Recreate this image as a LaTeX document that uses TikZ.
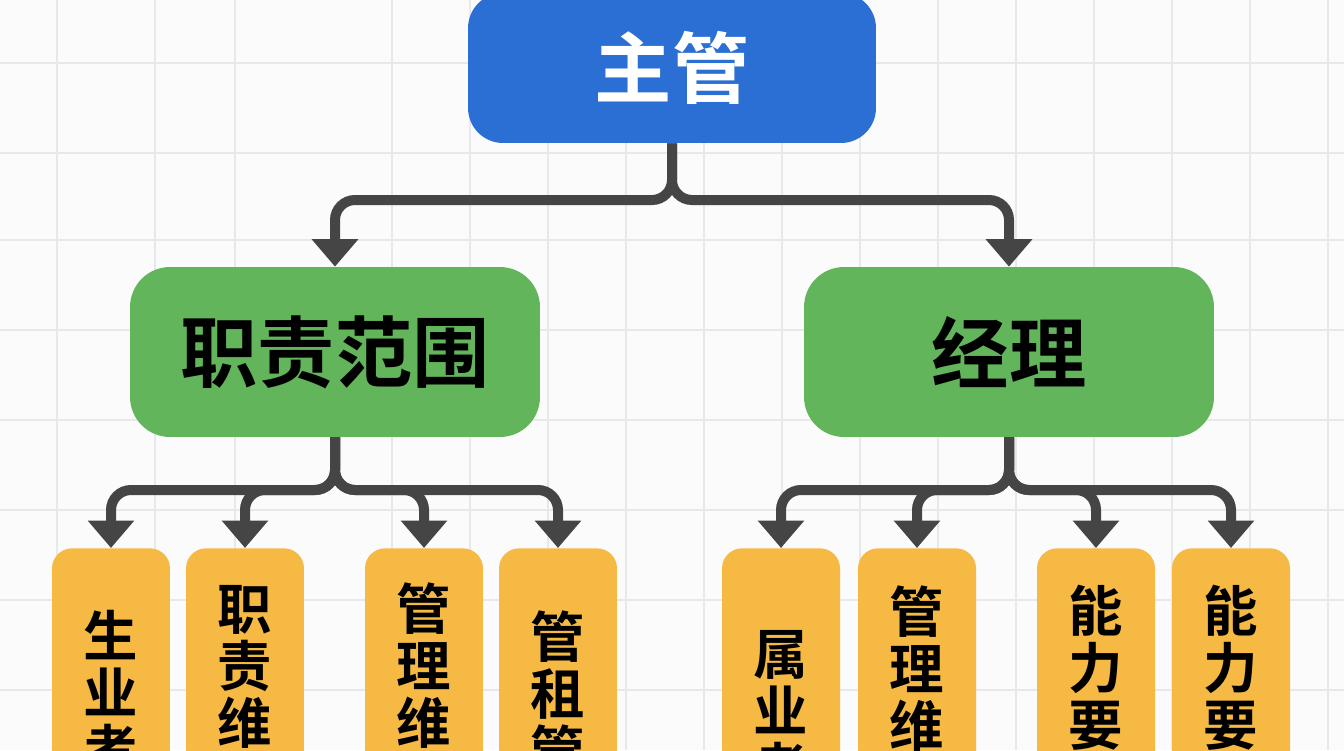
\documentclass[tikz,border=0pt]{standalone}
\usepackage{fontspec}
\newfontfamily\cjk{Noto Sans CJK SC}[BoldFont={Noto Sans CJK SC Bold}]
\usetikzlibrary{arrows.meta,positioning}
\definecolor{bossblue}{HTML}{2B6FD4}
\definecolor{midgreen}{HTML}{62B55B}
\definecolor{leafgold}{HTML}{F5B944}
\definecolor{wire}{HTML}{454545}
\definecolor{gridgray}{HTML}{E8E8EC}
\tikzset{
  >={Triangle[width=0.9cm,length=0.55cm]},
  link/.style={draw=wire,line width=0.2cm,rounded corners=0.4cm,->},
  boss/.style={fill=bossblue,rounded corners=0.7cm,minimum width=8.16cm,minimum height=3cm,
    text=white,font=\cjk\bfseries\fontsize{44}{48}\selectfont},
  mid/.style={fill=midgreen,rounded corners=0.8cm,minimum width=8.2cm,minimum height=3.4cm,
    text=black,font=\cjk\bfseries\fontsize{44}{48}\selectfont},
  leaf/.style={fill=leafgold,rounded corners=0.4cm,minimum width=2.36cm,minimum height=5cm,anchor=north},
  vtext/.style={anchor=center,align=center,text=black,inner sep=0pt,
    font=\cjk\bfseries\fontsize{31}{32.5}\selectfont}
}
\begin{document}
\begin{tikzpicture}[x=0.02cm,y=-0.02cm]
  \clip (0,0) rectangle (1344,750);
  \fill[white!97!gray] (0,0) rectangle (1344,750);
  % background grid
  \foreach \x in {57,155,235,392,470,548,626,704,782,860,938,1016,1094,1172,1250,1328}
    \draw[gridgray,line width=0.04cm] (\x,0) -- (\x,750);
  \foreach \y in {63,153,240,330,420,510,600,690}
    \draw[gridgray,line width=0.04cm] (0,\y) -- (1344,\y);

  % top
  \node[boss] (boss) at (672,68) {主管};

  % second level
  \node[mid] (scope) at (335,352) {职责范围};
  \node[mid] (mgr)   at (1009,352) {经理};
  \coordinate (split) at (672,200);
  \draw[link] (boss.south) -- (split) -| (scope.north);
  \draw[link] (boss.south) -- (split) -| (mgr.north);

  % leaves
  \foreach \n/\x/\ty/\t in {l1/111/640/生\\业\\考, l2/245/615/职\\责\\维, l3/424/612/管\\理\\维, l4/558/640/管\\租\\管,
      r1/781/660/属\\业\\考, r2/917/615/管\\理\\维, r3/1096/615/能\\力\\要, r4/1231/615/能\\力\\要}{
    \node[leaf] (\n) at (\x,548) {};
    \node[vtext,anchor=north] (\n txt) at (\x,\ty-30) {\t};
  }
  \coordinate (lsplit) at (335,490);
  \coordinate (rsplit) at (1009,490);
  \foreach \n in {l1,l2,l3,l4}
    \draw[link] (scope.south) -- (lsplit) -| (\n.north);
  \foreach \n in {r1,r2,r3,r4}
    \draw[link] (mgr.south) -- (rsplit) -| (\n.north);
\end{tikzpicture}
\end{document}
